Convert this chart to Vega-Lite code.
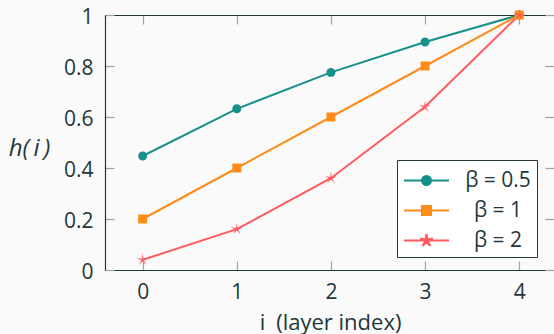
{
  "$schema": "https://vega.github.io/schema/vega-lite/v6.json",
  "width": 449,
  "height": 255,
  "autosize": {"type": "none"},
  "padding": {"left": 105, "top": 15, "right": 0, "bottom": 64},
  "background": "#fafafa",
  "config": {
    "view": {"stroke": null},
    "font": "Open Sans",
    "axis": {
      "grid": false,
      "domainColor": "#23373b",
      "domainWidth": 1.2,
      "tickColor": "#9aa3a6",
      "tickWidth": 1.2,
      "tickSize": -9,
      "labelFont": "Open Sans",
      "labelFontSize": 21,
      "labelColor": "#23373b",
      "titleFont": "Open Sans",
      "titleFontSize": 21,
      "titleColor": "#23373b",
      "titleFontWeight": "normal"
    },
    "legend": {
      "padding": 6,
      "rowPadding": 5,
      "symbolSize": 729,
      "symbolOffset": 9,
      "symbolStrokeWidth": 2,
      "labelFont": "Open Sans",
      "labelFontSize": 21,
      "labelColor": "#23373b",
      "labelAlign": "center",
      "labelOffset": 57,
      "labelExpr": "replace(replace(datum.label, ' ', '\u2002'), ' ', '\u2002')",
      "strokeColor": "#23373b",
      "fillColor": "#ffffff",
      "symbolOpacity": 1
    }
  },
  "data": {
    "values": [
      {"i": 0, "h": 0.447, "beta": "β = 0.5"},
      {"i": 1, "h": 0.632, "beta": "β = 0.5"},
      {"i": 2, "h": 0.775, "beta": "β = 0.5"},
      {"i": 3, "h": 0.894, "beta": "β = 0.5"},
      {"i": 4, "h": 1.0, "beta": "β = 0.5"},
      {"i": 0, "h": 0.2, "beta": "β = 1"},
      {"i": 1, "h": 0.4, "beta": "β = 1"},
      {"i": 2, "h": 0.6, "beta": "β = 1"},
      {"i": 3, "h": 0.8, "beta": "β = 1"},
      {"i": 4, "h": 1.0, "beta": "β = 1"},
      {"i": 0, "h": 0.04, "beta": "β = 2"},
      {"i": 1, "h": 0.16, "beta": "β = 2"},
      {"i": 2, "h": 0.36, "beta": "β = 2"},
      {"i": 3, "h": 0.64, "beta": "β = 2"},
      {"i": 4, "h": 1.0, "beta": "β = 2"}
    ]
  },
  "layer": [
    {
      "mark": {"type": "line", "strokeWidth": 2, "clip": false},
      "encoding": {
        "x": {
          "field": "i", "type": "quantitative",
          "scale": {"domain": [-0.4, 4.37], "nice": false, "zero": false},
          "axis": {
            "orient": "bottom", "values": [0, 1, 2, 3, 4], "format": "d",
            "labelBaseline": "alphabetic", "labelPadding": 37,
            "title": "i\u2002(layer index)", "titleX": 225, "titleY": 59,
            "titleFontSize": 22, "titleFont": "Open Sans", "titleColor": "#23373b",
            "titleBaseline": "alphabetic", "titleAlign": "center", "titleAnchor": null
          }
        },
        "y": {
          "field": "h", "type": "quantitative",
          "scale": {"domain": [0, 1], "nice": false, "zero": true},
          "axis": {
            "orient": "left", "values": [0, 0.2, 0.4, 0.6, 0.8, 1], "format": "~g",
            "labelBaseline": "alphabetic", "labelOffset": 8, "labelPadding": 21,
            "title": "h(\u2009i\u2009)", "titleAngle": 0, "titleX": -76, "titleY": 140,
            "titleFontSize": 24, "titleFont": "Open Sans", "titleColor": "#23373b",
            "titleAlign": "center", "titleBaseline": "alphabetic", "titleFontStyle": "italic"
          }
        },
        "stroke": {
          "field": "beta", "type": "nominal",
          "scale": {"domain": ["β = 0.5", "β = 1", "β = 2"], "range": ["#17908b", "#ff8c1a", "#ff5a5f"]},
          "legend": {
            "orient": "none", "legendX": 292, "legendY": 145, "title": null,
            "encode": {"symbols": {"update": {"stroke": {"scale": "stroke", "field": "value"}, "strokeWidth": {"value": 2}, "opacity": {"value": 1}}}}
          }
        }
      }
    },
    {
      "mark": {"type": "point", "filled": true, "size": 729, "strokeWidth": 0, "opacity": 1, "clip": false},
      "encoding": {
        "x": {
          "field": "i", "type": "quantitative",
          "axis": {"orient": "top", "values": [0, 1, 2, 3, 4], "labels": false, "title": null, "domain": true}
        },
        "y": {
          "field": "h", "type": "quantitative",
          "axis": {"orient": "right", "values": [0, 0.2, 0.4, 0.6, 0.8, 1], "labels": false, "title": null, "domain": false}
        },
        "fill": {
          "field": "beta", "type": "nominal",
          "scale": {"domain": ["β = 0.5", "β = 1", "β = 2"], "range": ["#17908b", "#ff8c1a", "#ff5a5f"]},
          "legend": {
            "orient": "none", "legendX": 292, "legendY": 145, "title": null,
            "encode": {"symbols": {"update": {"stroke": {"scale": "stroke", "field": "value"}, "strokeWidth": {"value": 2}, "opacity": {"value": 1}}}}
          }
        },
        "shape": {
          "field": "beta", "type": "nominal",
          "scale": {
            "domain": ["β = 0.5", "β = 1", "β = 2"],
            "range": [
              "M-1.667,0H1.667M0.333,0A0.333,0.333,0,1,1,-0.333,0A0.333,0.333,0,1,1,0.333,0Z",
              "M-1.667,0H1.667M-0.333,-0.333H0.333V0.333H-0.333Z",
              "M-1.667,0H1.667M0,-0.483L0.058,-0.08L0.46,-0.15L0.095,0.032L0.283,0.392L0,0.1L-0.283,0.392L-0.095,0.032L-0.46,-0.15L-0.058,-0.08Z"
            ]
          },
          "legend": {
            "orient": "none", "legendX": 292, "legendY": 145, "title": null,
            "encode": {"symbols": {"update": {"stroke": {"scale": "stroke", "field": "value"}, "strokeWidth": {"value": 2}, "opacity": {"value": 1}}}}
          }
        }
      }
    }
  ],
  "resolve": {"axis": {"x": "independent", "y": "independent"}}
}
